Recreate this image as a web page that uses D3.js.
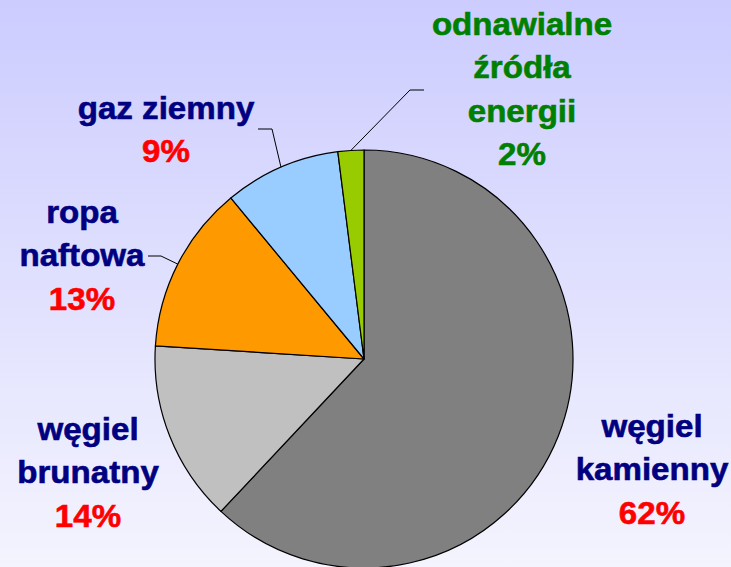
<!DOCTYPE html>
<html>
<head>
<meta charset="utf-8">
<script src="https://cdn.jsdelivr.net/npm/d3@7"></script>
<style>
html,body{margin:0;padding:0;overflow:hidden;}
svg{display:block;}
</style>
</head>
<body>
<script>
// ---- data ----
const categories = ["węgiel kamienny", "węgiel brunatny", "ropa naftowa", "gaz ziemny", "odnawialne źródła energii"];
const values = [62, 14, 13, 9, 2];
const labelLines = [["węgiel", "kamienny"], ["węgiel", "brunatny"], ["ropa", "naftowa"], ["gaz ziemny"], ["odnawialne", "źródła", "energii"]];
const sliceColors = ["#808080", "#c0c0c0", "#ff9900", "#99ccff", "#99cc00"];
const nameColors = ["#000080", "#000080", "#000080", "#000080", "#008000"];
const pctColors = ["#ff0000", "#ff0000", "#ff0000", "#ff0000", "#008000"];

// ---- layout (positions only) ----
const W = 731, H = 567;
const cx = 364, cy = 359, R = 209;
const labelPos = [
  {x: 652, y: 437},
  {x: 88, y: 440},
  {x: 82, y: 223},
  {x: 166, y: 119},
  {x: 522, y: 35}
];
// leader: start point (near label) and elbow
const leaders = [null, null,
  {sx: 148, ex: 161, y: 256},
  {sx: 258, ex: 272, y: 129},
  {sx: 424, ex: 410, y: 90}
];
const lineH = 43.5;
const stretch = 1.035;

const svg = d3.select("body").append("svg").attr("width", W).attr("height", H);
const defs = svg.append("defs");
const grad = defs.append("linearGradient").attr("id", "bg").attr("x1", 0).attr("y1", 0).attr("x2", 0).attr("y2", 1);
grad.append("stop").attr("offset", "0%").attr("stop-color", "#ccccff");
grad.append("stop").attr("offset", "100%").attr("stop-color", "#f4f4fe");
svg.append("rect").attr("width", W).attr("height", H).attr("fill", "url(#bg)");

const pie = d3.pie().sort(null).value(d => d)(values);
const arc = d3.arc().innerRadius(0).outerRadius(R);

const g = svg.append("g").attr("transform", `translate(${cx},${cy})`);
g.selectAll("path").data(pie).join("path")
  .attr("d", arc)
  .attr("fill", (d, i) => sliceColors[i])
  .attr("stroke", "#000")
  .attr("stroke-width", 1.2)
  .attr("stroke-linejoin", "round");

// leader lines
pie.forEach((d, i) => {
  const L = leaders[i];
  if (!L) return;
  const a = (d.startAngle + d.endAngle) / 2;
  const px = cx + R * Math.sin(a), py = cy - R * Math.cos(a);
  svg.append("polyline")
    .attr("points", `${L.sx},${L.y} ${L.ex},${L.y} ${px},${py}`)
    .attr("fill", "none").attr("stroke", "#000").attr("stroke-width", 1);
});

// labels
const font = "'Liberation Sans', Arial, Helvetica, sans-serif";
categories.forEach((c, i) => {
  const p = labelPos[i];
  const t = svg.append("g").attr("transform", `translate(${p.x},0) scale(${stretch},1)`)
    .append("text")
    .attr("font-family", font).attr("font-weight", "bold").attr("font-size", 32)
    .attr("text-anchor", "middle");
  labelLines[i].forEach((ln, k) => {
    t.append("tspan").attr("x", 0).attr("y", p.y + k * lineH)
      .attr("fill", nameColors[i]).attr("stroke", nameColors[i]).attr("stroke-width", 0.6).text(ln);
  });
  t.append("tspan").attr("x", 0).attr("y", p.y + labelLines[i].length * lineH)
    .attr("fill", pctColors[i]).attr("stroke", pctColors[i]).attr("stroke-width", 0.6).text(values[i] + "%");
});
</script>
</body>
</html>
